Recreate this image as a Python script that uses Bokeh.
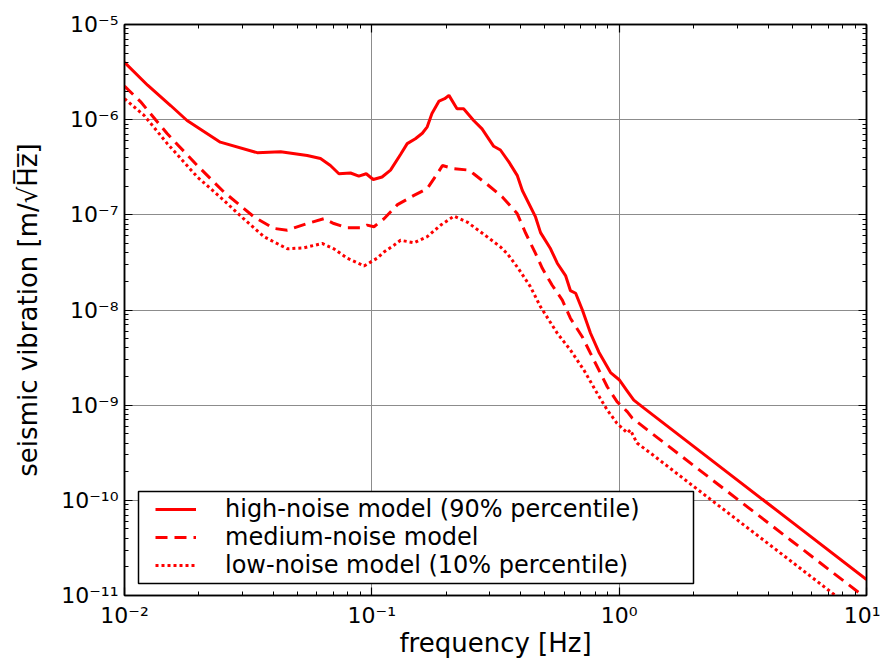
from bokeh.plotting import figure
from bokeh.models import (FixedTicker, CustomJSTickFormatter, LogAxis, Legend, LegendItem,
                          ColumnDataSource, BoxAnnotation)
from bokeh.embed import file_html
from bokeh.resources import INLINE

# ---- data ----
high_f = [0.010, 0.0124, 0.0154, 0.0179, 0.0244, 0.0344, 0.0428, 0.0548, 0.062, 0.068,
          0.0736, 0.082, 0.0886, 0.0949, 0.1013, 0.110, 0.119, 0.1306, 0.139, 0.150,
          0.160, 0.1675, 0.175, 0.187, 0.197, 0.205, 0.221, 0.235, 0.258, 0.279,
          0.311, 0.331, 0.358, 0.387, 0.406, 0.459, 0.481, 0.528, 0.562, 0.607,
          0.635, 0.667, 0.71, 0.766, 0.828, 0.923, 1.0, 1.08, 1.146, 1.26,
          2.0, 5.0, 10.0]
high_v = [4.0e-6, 2.3e-6, 1.4e-6, 9.8e-7, 5.8e-7, 4.5e-7, 4.6e-7, 4.2e-7, 3.9e-7, 3.3e-7,
          2.7e-7, 2.75e-7, 2.55e-7, 2.7e-7, 2.35e-7, 2.5e-7, 2.95e-7, 4.3e-7, 5.6e-7, 6.3e-7,
          7.2e-7, 8.4e-7, 1.16e-6, 1.57e-6, 1.66e-6, 1.80e-6, 1.30e-6, 1.30e-6, 9.8e-7, 8.0e-7,
          5.25e-7, 4.8e-7, 3.6e-7, 2.6e-7, 1.8e-7, 9.5e-8, 6.5e-8, 4.4e-8, 3.1e-8, 2.3e-8,
          1.6e-8, 1.5e-8, 1.0e-8, 5.7e-9, 3.6e-9, 2.2e-9, 1.85e-9, 1.4e-9, 1.13e-9, 9.3e-10,
          3.69e-10, 5.9e-11, 1.47e-11]

med_f = [0.010, 0.0116, 0.0149, 0.0197, 0.0252, 0.0334, 0.0402, 0.0455, 0.0548, 0.064,
         0.0702, 0.0795, 0.090, 0.0957, 0.102, 0.112, 0.127, 0.148, 0.1675, 0.184,
         0.193, 0.215, 0.247, 0.258, 0.292, 0.337, 0.387, 0.419, 0.459, 0.489,
         0.536, 0.589, 0.635, 0.71, 0.766, 0.895, 0.98, 1.08, 1.13, 1.30,
         2.0, 5.0, 10.0]
med_v = [2.25e-6, 1.55e-6, 7.1e-7, 3.3e-7, 1.74e-7, 9.5e-8, 7.2e-8, 6.9e-8, 8.1e-8, 9.1e-8,
         8.1e-8, 7.3e-8, 7.3e-8, 7.8e-8, 7.5e-8, 9.1e-8, 1.28e-7, 1.6e-7, 1.89e-7, 2.7e-7,
         3.3e-7, 3.05e-7, 2.95e-7, 2.7e-7, 2.1e-7, 1.54e-7, 1.03e-7, 6.4e-8, 3.93e-8, 2.74e-8,
         1.82e-8, 1.27e-8, 8.2e-9, 5.2e-9, 3.5e-9, 1.56e-9, 1.09e-9, 8.5e-10, 7.3e-10, 5.5e-10,
         2.32e-10, 3.72e-11, 9.3e-12]

low_f = [0.010, 0.012, 0.0149, 0.0197, 0.0252, 0.0303, 0.0366, 0.0455, 0.053, 0.063,
         0.0702, 0.0795, 0.093, 0.105, 0.112, 0.123, 0.1306, 0.148, 0.1675, 0.19,
         0.215, 0.243, 0.292, 0.331, 0.353, 0.387, 0.438, 0.481, 0.562, 0.635,
         0.72, 0.815, 0.895, 0.98, 1.08, 1.11, 1.18, 1.34, 2.0, 5.0, 10.0]
low_v = [1.66e-6, 1.11e-6, 5.6e-7, 2.5e-7, 1.42e-7, 9.1e-8, 5.9e-8, 4.4e-8, 4.5e-8, 5.0e-8,
         4.4e-8, 3.5e-8, 2.9e-8, 3.5e-8, 4.07e-8, 4.8e-8, 5.4e-8, 5.1e-8, 5.9e-8, 7.8e-8,
         9.7e-8, 8.4e-8, 5.9e-8, 4.6e-8, 3.9e-8, 2.84e-8, 1.75e-8, 1.08e-8, 5.7e-9, 3.8e-9,
         2.34e-9, 1.33e-9, 8.9e-10, 6.45e-10, 5.1e-10, 5.5e-10, 4.0e-10, 3.13e-10, 1.40e-10,
         2.25e-11, 5.6e-12]

labels = ["high-noise model (90% percentile)", "medium-noise model",
          "low-noise model (10% percentile)"]
x_title = "frequency [Hz]"
y_title = "seismic vibration [m/\u221aH\u0305z\u0305]"

x_major = [1e-2, 1e-1, 1e0, 1e1]
y_major = [1e-11, 1e-10, 1e-9, 1e-8, 1e-7, 1e-6, 1e-5]
x_minor = [m * d for d in [1e-2, 1e-1, 1e0] for m in range(2, 10)]
y_minor = [m * d for d in [1e-11, 1e-10, 1e-9, 1e-8, 1e-7, 1e-6] for m in range(2, 10)]

FONT = "DejaVu Sans"

p = figure(width=880, height=660, x_axis_type="log", y_axis_type="log",
           x_range=(1e-2, 1e1), y_range=(1e-11, 1e-5),
           output_backend="svg", toolbar_location=None,
           min_border_left=124, min_border_right=14, min_border_top=24,
           min_border_bottom=64)

p.outline_line_color = "black"
p.outline_line_width = 1.5

xt = FixedTicker(ticks=x_major, minor_ticks=x_minor)
yt = FixedTicker(ticks=y_major, minor_ticks=y_minor)

fmt = CustomJSTickFormatter(code="""
const e = Math.round(Math.log10(tick));
const sup = {'-':'\u207b','0':'\u2070','1':'\u00b9','2':'\u00b2','3':'\u00b3','4':'\u2074',
             '5':'\u2075','6':'\u2076','7':'\u2077','8':'\u2078','9':'\u2079'};
return '10' + String(e).split('').map(c => sup[c]).join('');
""")
blank = CustomJSTickFormatter(code="return '';")


def style_axis(ax, ticker, formatter):
    ax.ticker = ticker
    ax.formatter = formatter
    ax.major_tick_in = 8
    ax.major_tick_out = 0
    ax.minor_tick_in = 4
    ax.minor_tick_out = 0
    ax.axis_line_color = "black"
    ax.axis_line_width = 1.5
    ax.major_tick_line_color = "black"
    ax.major_tick_line_width = 1.2
    ax.minor_tick_line_color = "black"
    ax.minor_tick_line_width = 1
    ax.major_label_text_font = FONT
    ax.major_label_text_font_size = "22px"
    ax.major_label_text_color = "black"
    ax.axis_label_text_font = FONT
    ax.axis_label_text_font_size = "26px"
    ax.axis_label_text_font_style = "normal"
    ax.axis_label_text_color = "black"


style_axis(p.xaxis[0], xt, fmt)
style_axis(p.yaxis[0], yt, fmt)
p.xaxis[0].major_label_standoff = 7
p.xaxis[0].axis_label = x_title
p.xaxis[0].axis_label_standoff = -3
p.yaxis[0].major_label_standoff = 6
p.yaxis[0].axis_label = y_title
p.yaxis[0].axis_label_standoff = 15

top = LogAxis()
right = LogAxis()
style_axis(top, xt, blank)
style_axis(right, yt, blank)
top.major_label_standoff = 0
right.major_label_standoff = 0
p.add_layout(top, "above")
p.add_layout(right, "right")

for g in (p.xgrid[0], p.ygrid[0]):
    g.grid_line_color = "#8c8c8c"
    g.grid_line_width = 1
p.xgrid[0].ticker = xt
p.ygrid[0].ticker = yt

src_h = ColumnDataSource(dict(f=high_f, v=high_v))
src_m = ColumnDataSource(dict(f=med_f, v=med_v))
src_l = ColumnDataSource(dict(f=low_f, v=low_v))

r_h = p.line("f", "v", source=src_h, line_color="#ff0000", line_width=3)
r_m = p.line("f", "v", source=src_m, line_color="#ff0000", line_width=3, line_dash="12 7")
r_l = p.line("f", "v", source=src_l, line_color="#ff0000", line_width=3, line_dash="3 3")

# legend frame (screen units, relative to the plot frame's bottom-left corner)
p.add_layout(BoxAnnotation(left=14, right=569, bottom=12, top=104,
                           left_units="screen", right_units="screen",
                           bottom_units="screen", top_units="screen",
                           fill_color="white", fill_alpha=1,
                           line_color="black", line_alpha=1, line_width=1.5))

# one borderless legend per row, rows packed tightly as in the reference
row_y = [72, 44, 16]
for lab, rend, ly in zip(labels, [r_h, r_m, r_l], row_y):
    lg = Legend(items=[LegendItem(label=lab, renderers=[rend])],
                location=(31, ly), orientation="vertical")
    lg.border_line_alpha = 0
    lg.background_fill_alpha = 0
    lg.label_text_font = FONT
    lg.label_text_font_size = "24px"
    lg.label_text_color = "black"
    lg.glyph_width = 41
    lg.glyph_height = 20
    lg.label_height = 20
    lg.label_standoff = 29
    lg.padding = 0
    lg.spacing = 0
    lg.margin = 0
    p.add_layout(lg, "center")

open("out.html", "w").write(file_html(p, INLINE))
